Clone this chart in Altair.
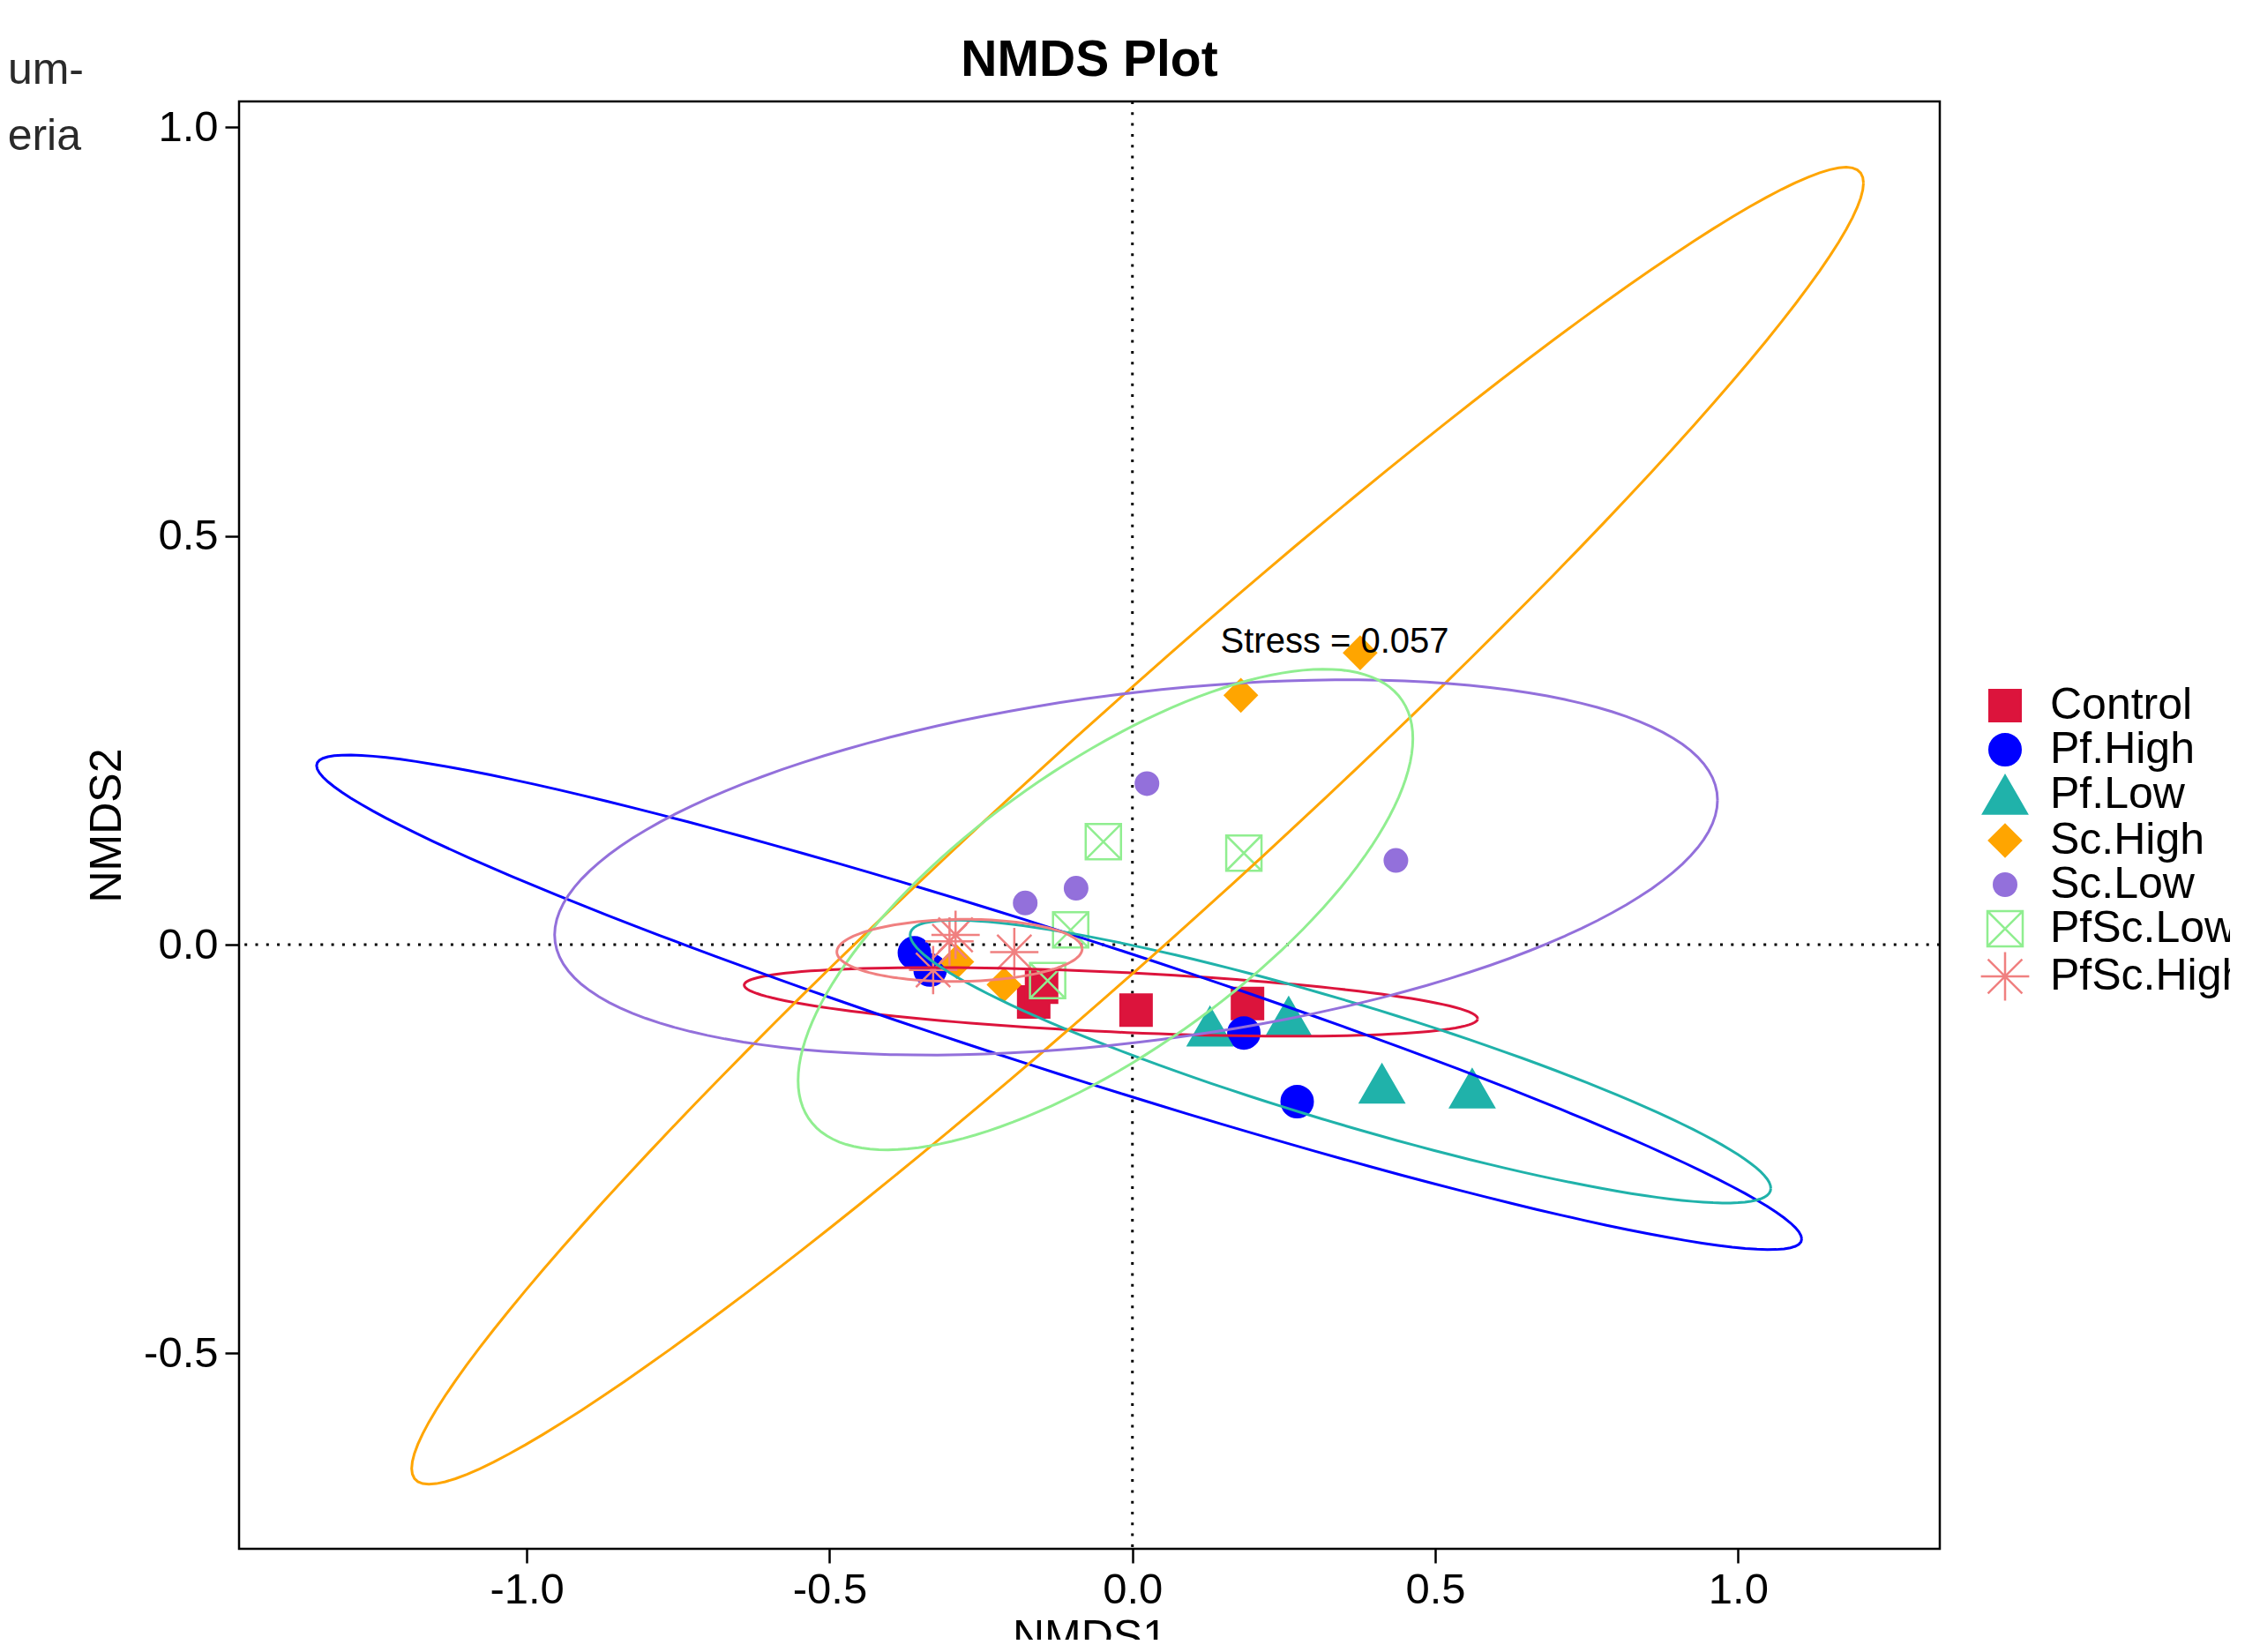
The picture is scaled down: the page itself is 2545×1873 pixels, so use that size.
import altair as alt
import numpy as np
import pandas as pd

# ---------------- data ----------------
groups = ["Control", "Pf.High", "Pf.Low", "Sc.High", "Sc.Low", "PfSc.Low", "PfSc.High"]
colors = ["#DC143C", "#0000FF", "#20B2AA", "#FFA500", "#9370DB", "#90EE90", "#F08080"]

control_x = [0.006, 0.190, -0.163, -0.150]
control_y = [-0.080, -0.072, -0.070, -0.052]
pfhigh_x = [-0.360, -0.334, 0.184, 0.272]
pfhigh_y = [-0.010, -0.031, -0.108, -0.192]
pflow_x = [0.128, 0.258, 0.412, 0.561]
pflow_y = [-0.100, -0.088, -0.170, -0.176]
schigh_x = [0.376, 0.179, -0.212, -0.290]
schigh_y = [0.357, 0.305, -0.049, -0.021]
sclow_x = [0.024, 0.435, -0.177, -0.093]
sclow_y = [0.197, 0.103, 0.051, 0.069]
pfsclow_x = [-0.048, 0.184, -0.102, -0.140]
pfsclow_y = [0.126, 0.112, 0.018, -0.044]
pfschigh_x = [-0.302, -0.195, -0.329, -0.292]
pfschigh_y = [0.004, -0.009, -0.031, 0.012]

# 95% ellipses: centre x, centre y, half-width x, half-height y, correlation
ell_cx = [-0.0355, -0.121, 0.3435, 0.0085, 0.006, -0.0445, -0.2855]
ell_cy = [-0.070, -0.0705, -0.143, 0.1455, 0.0945, 0.043, -0.007]
ell_wx = [0.6055, 1.226, 0.7105, 1.1985, 0.960, 0.5075, 0.2025]
ell_wy = [0.042, 0.3025, 0.173, 0.8055, 0.2295, 0.294, 0.038]
ell_rho = [-0.49, -0.957, -0.896, 0.976, 0.359, 0.711, 0.05]

stress_label = ["Stress = 0.057"]
stress_x = [0.334]
stress_y = [0.357]

fragment_lines = ["um-", "eria"]

x_ticks = [-1.0, -0.5, 0.0, 0.5, 1.0]
y_ticks = [-0.5, 0.0, 0.5, 1.0]

# ---------------- build tables ----------------
xs = [control_x, pfhigh_x, pflow_x, schigh_x, sclow_x, pfsclow_x, pfschigh_x]
ys = [control_y, pfhigh_y, pflow_y, schigh_y, sclow_y, pfsclow_y, pfschigh_y]
rows = []
for g, gx, gy in zip(groups, xs, ys):
    for a, b in zip(gx, gy):
        rows.append({"group": g, "NMDS1": a, "NMDS2": b})
pts = pd.DataFrame(rows)

t = np.linspace(0, 2 * np.pi, 145)
erows = []
for g, cx, cy, wx, wy, r in zip(groups, ell_cx, ell_cy, ell_wx, ell_wy, ell_rho):
    ex = cx + wx * np.cos(t)
    ey = cy + wy * (r * np.cos(t) + np.sqrt(1 - r * r) * np.sin(t))
    for i, (a, b) in enumerate(zip(ex, ey)):
        erows.append({"egroup": g, "ex": a, "ey": b, "i": i})
ell = pd.DataFrame(erows)

box_x = "M-1,-1L1,-1L1,1L-1,1Z M-1,-1L1,1 M1,-1L-1,1"
asterisk = "M-1,0L1,0 M0,-1L0,1 M-0.71,-0.71L0.71,0.71 M-0.71,0.71L0.71,-0.71"
shapes = ["square", "circle", "triangle-up", "diamond", "circle", box_x, asterisk]
sizes = [1260, 1260, 2450, 1300, 650, 1600, 3000]
fills = colors[:5] + ["transparent", "transparent"]

FONT = "Liberation Sans"
xdom = [-1.475, 1.333]
ydom = [-0.739, 1.0315]

xscale = alt.Scale(domain=xdom, nice=False, zero=False)
yscale = alt.Scale(domain=ydom, nice=False, zero=False)

lab_expr = "datum.value < 0 ? '-' + format(-datum.value, '.1f') : format(datum.value, '.1f')"
xaxis = alt.Axis(values=x_ticks, labelExpr=lab_expr, title="NMDS1", titlePadding=4,
                 labelPadding=6, grid=False, domain=False)
yaxis = alt.Axis(values=y_ticks, labelExpr=lab_expr, title="NMDS2", titlePadding=16,
                 labelPadding=8, grid=False, domain=False)

legend = alt.Legend(orient="none", legendX=1973, legendY=660, labelFontSize=50,
                    labelFont=FONT, labelColor="black", labelLimit=500,
                    symbolStrokeWidth=2.5, rowPadding=-4, labelOffset=22, padding=0,
                    symbolOpacity=1)

base_x = alt.X("NMDS1:Q", scale=xscale, axis=xaxis)
base_y = alt.Y("NMDS2:Q", scale=yscale, axis=yaxis)

vline = alt.Chart(pd.DataFrame({"NMDS1": [0.0]})).mark_rule(
    color="black", strokeWidth=3, strokeDash=[3, 9.3]).encode(x=alt.X("NMDS1:Q", scale=xscale, axis=xaxis))
hline = alt.Chart(pd.DataFrame({"NMDS2": [0.0]})).mark_rule(
    color="black", strokeWidth=3, strokeDash=[3, 9.3]).encode(y=alt.Y("NMDS2:Q", scale=yscale, axis=yaxis))

points = alt.Chart(pts).mark_point(strokeWidth=2.5, opacity=1).encode(
    x=base_x, y=base_y,
    fill=alt.Fill("group:N", scale=alt.Scale(domain=groups, range=fills), legend=legend, title=None),
    stroke=alt.Stroke("group:N", scale=alt.Scale(domain=groups, range=colors), legend=legend, title=None),
    shape=alt.Shape("group:N", scale=alt.Scale(domain=groups, range=shapes), legend=legend, title=None),
    size=alt.Size("group:N", scale=alt.Scale(type="ordinal", domain=groups, range=sizes),
                  legend=legend, title=None),
)

ellipses = alt.Chart(ell).mark_line(strokeWidth=3, clip=True).encode(
    x=alt.X("ex:Q", scale=xscale, axis=xaxis),
    y=alt.Y("ey:Q", scale=yscale, axis=yaxis),
    color=alt.Color("egroup:N", scale=alt.Scale(domain=groups, range=colors), legend=None),
    order="i:Q",
)

stress = alt.Chart(pd.DataFrame({"label": stress_label, "NMDS1": stress_x, "NMDS2": stress_y})).mark_text(
    font=FONT, fontSize=40, color="black", align="center", baseline="alphabetic").encode(
    x=alt.X("NMDS1:Q", scale=xscale, axis=xaxis),
    y=alt.Y("NMDS2:Q", scale=yscale, axis=yaxis),
    text="label:N")

frag1 = alt.Chart(pd.DataFrame({"t": [fragment_lines[0]]})).mark_text(
    font=FONT, fontSize=50, color="#2a2a2a", align="right", baseline="alphabetic").encode(
    x=alt.value(-176), y=alt.value(-20), text="t:N")
frag2 = alt.Chart(pd.DataFrame({"t": [fragment_lines[1]]})).mark_text(
    font=FONT, fontSize=50, color="#2a2a2a", align="right", baseline="alphabetic").encode(
    x=alt.value(-179), y=alt.value(55), text="t:N")

chart = alt.layer(vline, hline, points, ellipses, stress, frag1, frag2).properties(
    width=1928, height=1641,
    title=alt.TitleParams("NMDS Plot", font=FONT, fontSize=57, fontWeight="bold",
                          color="black", anchor="middle", offset=22, frame="group", dy=65),
    padding={"left": 263, "top": 107, "right": 329, "bottom": 103},
    autosize=alt.AutoSizeParams(type="none"),
    background="white",
).configure_view(stroke="black", strokeWidth=2.5).configure_axis(
    grid=False, domain=False, tickColor="black", tickWidth=2.5, tickSize=16,
    labelFont=FONT, labelFontSize=49, labelColor="black",
    titleFont=FONT, titleFontSize=50, titleFontWeight="normal", titleColor="black",
)

chart.save("out.html", embed_options={"renderer": "svg", "actions": False})
